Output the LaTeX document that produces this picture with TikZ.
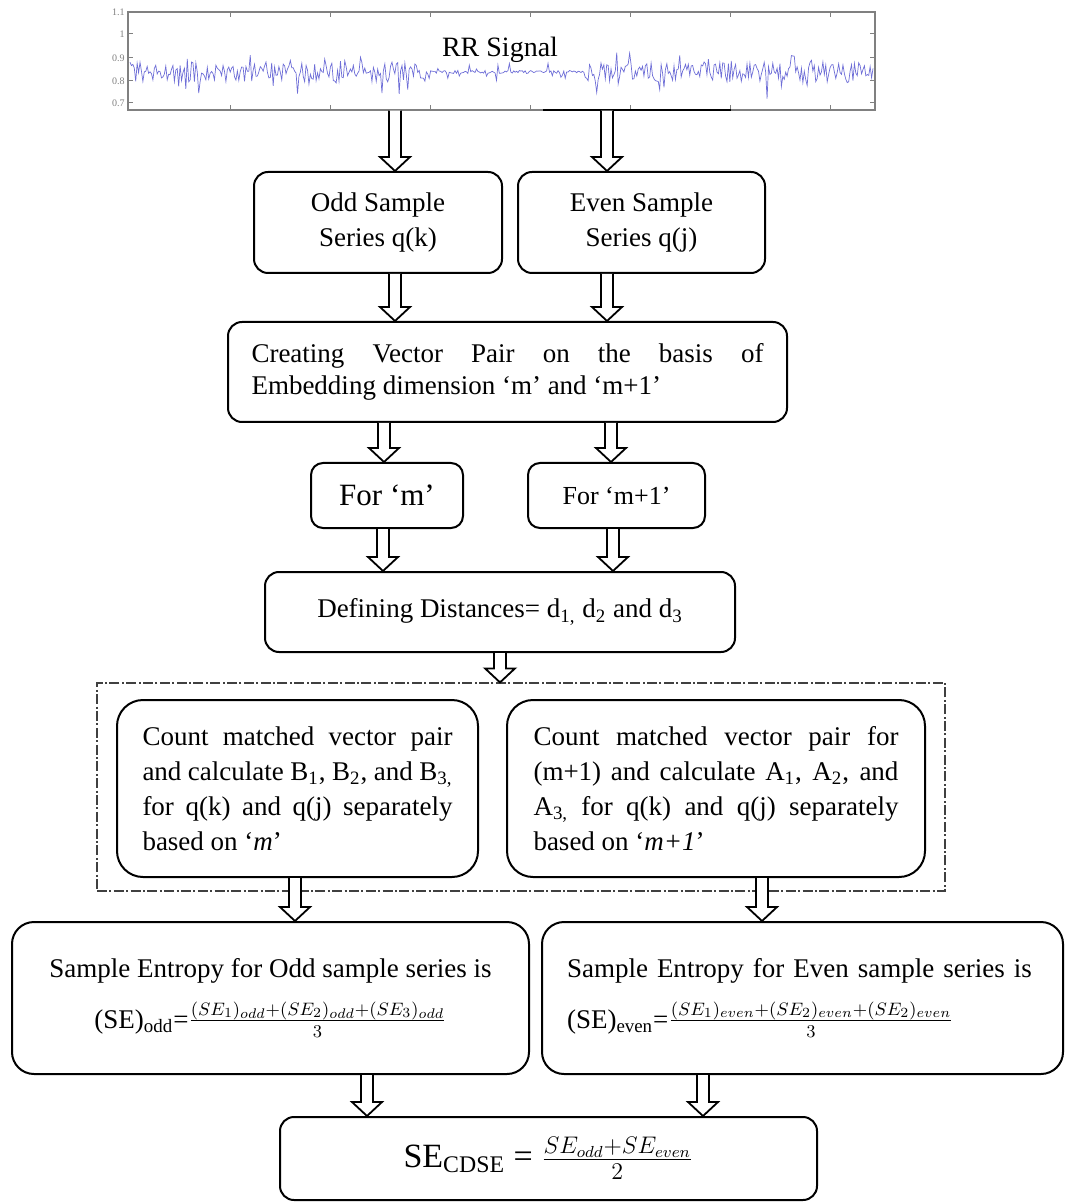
\documentclass[tikz,border=0pt]{standalone}
\usepackage{fontspec}
\setmainfont{Liberation Serif}
\usetikzlibrary{calc}
\definecolor{rrblue}{RGB}{110,110,215}

\begin{document}
\begin{tikzpicture}[
	x=0.5pt, y=-0.5pt,
	box/.style={draw, line width=1pt, rounded corners=7pt, inner sep=0pt, font=\fontsize{13.5}{17.5}\selectfont},
	groupbox/.style={draw, black!75, line width=0.6pt, dash pattern=on 5pt off 1.2pt on 1pt off 1.2pt, inner sep=0pt},
	hollow/.style={draw, line width=0.9pt, fill=white,
		to path={let \p1=(\tikztostart), \p2=(\tikztotarget) in
			(\x1-3pt,\y1) -- (\x1-3pt,\y2+7pt) -- (\x1-7.5pt,\y2+7pt) -- (\x1,\y2)
			-- (\x1+7.5pt,\y2+7pt) -- (\x1+3pt,\y2+7pt) -- (\x1+3pt,\y1)}},
	sig/.style={rrblue, line width=0.35pt},
	axtick/.style={gray, line width=0.5pt},
	ticklabel/.style={gray, font=\fontsize{5}{5}\selectfont, anchor=east, inner sep=1pt}
	]
\useasboundingbox (0,0) rectangle (1065,1202);

% begin signal plot
\node[draw=gray, line width=0.6pt, minimum width=373.5pt, minimum height=49pt, inner sep=0pt] (rr) at (501.5, 61) {};
\begin{scope}
\clip (129,13) rectangle (874,109);
\pgfmathsetseed{17}
\draw[sig] plot[domain=130:873, samples=520] (\x, {72 + ((\x>430 && \x<585) ? 1.5 : 10)*rand + (rnd>0.86 ? ((\x>430 && \x<585) ? 9 : 18)*rand : 0)});
\end{scope}
\foreach \t in {230,330,...,830} {
	\draw[axtick] (\t,12) -- (\t,17);
	\draw[axtick] (\t,110) -- (\t,105);
}
\foreach \v/\yy in {1.1/12, 1/34, 0.9/58, 0.8/81, 0.7/103} {
	\draw[axtick] (128,\yy) -- (133,\yy);
	\draw[axtick] (875,\yy) -- (870,\yy);
	\node[ticklabel] (lab\yy) at (127,\yy) {\v};
}
\draw[line width=1.3pt] (543,110) -- (731,110);
\node[font=\fontsize{14}{14}\selectfont, inner sep=0pt] (rrtitle) at (500, 50) {RR Signal};
% end signal plot

			\node[box, minimum width=124pt, minimum height=50.5pt, align=center] (odd)   at (378, 222.5) {Odd Sample\\Series q(k)};
			\node[box, minimum width=123.5pt, minimum height=50.5pt, align=center] (even)   at (641.5, 222.5) {Even Sample\\Series q(j)};
			\node[box, minimum height=50pt, text width=256pt, inner xsep=11.75pt, align=justify, font=\fontsize{13.5}{16}\selectfont] (creating)   at (507.5, 372) {Creating Vector Pair on the basis of\linebreak Embedding dimension ‘m’ and ‘m+1’};
			\node[box, minimum width=76pt, minimum height=32.5pt, rounded corners=6pt, font=\fontsize{15.5}{16}\selectfont] (form)   at (387, 495.5) {For ‘m’};
			\node[box, minimum width=88.5pt, minimum height=32.5pt, rounded corners=6pt, font=\fontsize{13}{14}\selectfont] (formone)   at (616.5, 495.5) {For ‘m+1’};
			\node[box, minimum width=235pt, minimum height=40pt] (defining)   at (500, 612) {Defining Distances= d\textsubscript{1,} d\textsubscript{2} and d\textsubscript{3}};
			\node[groupbox, minimum width=424pt, minimum height=104pt] (grp)   at (521, 787) {};
			\node[box, minimum height=88.5pt, text width=155pt, inner xsep=12.75pt, rounded corners=13pt, align=justify] (countl)   at (297.5, 788.5) {Count matched vector pair\linebreak and calculate B\textsubscript{1}, B\textsubscript{2}, and B\textsubscript{3,}\linebreak for q(k) and q(j) separately\linebreak based on ‘\textit{m}’};
			\node[box, minimum height=88.5pt, text width=182.5pt, inner xsep=13.25pt, rounded corners=13pt, align=justify] (countr)   at (716, 788.5) {Count matched vector pair for\linebreak (m+1) and calculate A\textsubscript{1}, A\textsubscript{2}, and\linebreak A\textsubscript{3,} for q(k) and q(j) separately\linebreak based on ‘\textit{m+1}’};
			\node[box, minimum width=258.5pt, minimum height=76pt, rounded corners=11pt, align=center] (seodd)   at (270.5, 998) {Sample Entropy for Odd sample series is\\[8pt](SE)\textsubscript{odd}=$\frac{(SE_1)_{odd}+(SE_2)_{odd}+(SE_3)_{odd}}{3}$};
			\node[box, minimum height=76pt, text width=235.5pt, inner xsep=12.5pt, rounded corners=11pt, align=left] (seeven)   at (802.5, 998) {Sample Entropy for Even sample series is\\[8pt](SE)\textsubscript{even}=$\frac{(SE_1)_{even}+(SE_2)_{even}+(SE_2)_{even}}{3}$};
			\node[box, minimum width=268.5pt, minimum height=41.5pt, font=\fontsize{17}{20}\selectfont] (final)   at (548.5, 1158.5) {SE\textsubscript{CDSE} = $\frac{SE_{odd}+SE_{even}}{2}$};

			\draw[hollow] ([xshift=-53.25pt]rr.south) to (odd.north);
			\draw[hollow] ([xshift=52.75pt]rr.south) to (even.north);
			\draw[hollow] ([xshift=8.5pt]odd.south) to (creating.north);
			\draw[hollow] ([xshift=-17.25pt]even.south) to (creating.north);
			\draw[hollow] ([xshift=-61.75pt]creating.south) to (form.north);
			\draw[hollow] ([xshift=51.75pt]creating.south) to (formone.north);
			\draw[hollow] ([xshift=-2pt]form.south) to (defining.north);
			\draw[hollow] ([xshift=-1.75pt]formone.south) to (defining.north);
			\draw[hollow] (defining.south) to (grp.north);
			\draw[hollow] ([xshift=-1.25pt]countl.south) to (seodd.north);
			\draw[hollow] ([xshift=23pt]countr.south) to (seeven.north);
			\draw[hollow] ([xshift=48.25pt]seodd.south) to (final.north);
			\draw[hollow] ([xshift=-49.75pt]seeven.south) to (final.north);

\end{tikzpicture}
\end{document}
